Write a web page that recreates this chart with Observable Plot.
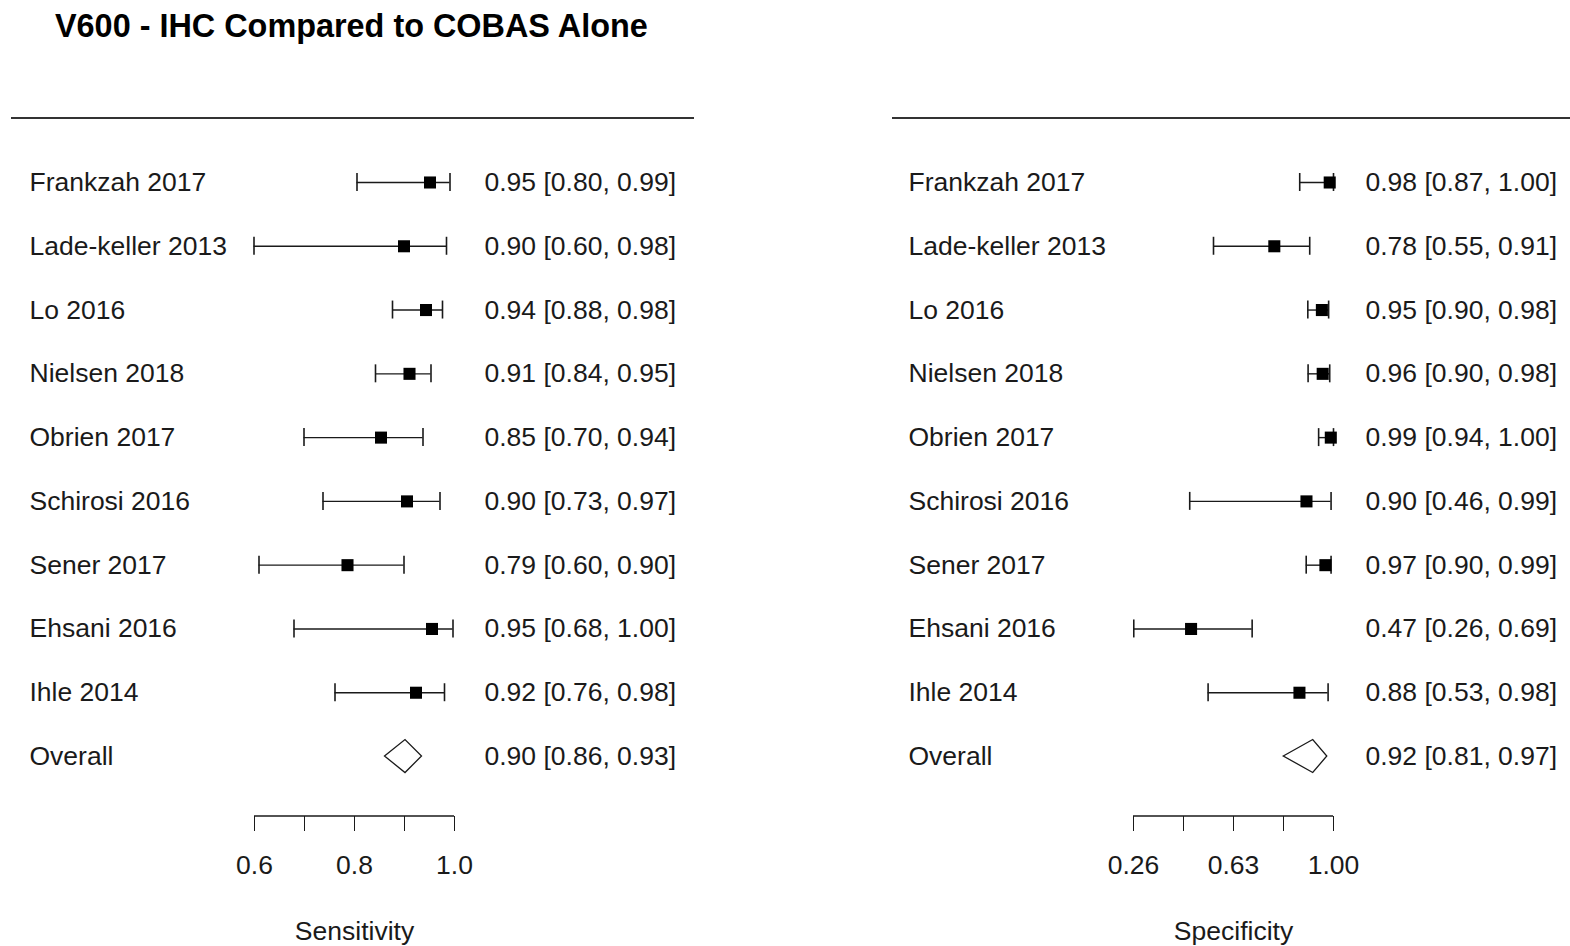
<!DOCTYPE html>
<html>
<head>
<meta charset="utf-8">
<script src="https://cdn.jsdelivr.net/npm/d3@7"></script>
<script src="https://cdn.jsdelivr.net/npm/@observablehq/plot@0.6"></script>
<style>
  html, body { margin: 0; padding: 0; background: #fff; }
  #wrap { position: relative; width: 1570px; height: 946px; overflow: hidden; font-family: "Liberation Sans", Arial, sans-serif; }
  #title { position: absolute; left: 55px; top: 10px; font-size: 32.4px; line-height: 32px; font-weight: bold; color: #000; white-space: nowrap; }
  .hr { position: absolute; top: 117px; height: 2px; background: #333; }
  .panel { position: absolute; top: 60px; }
</style>
</head>
<body>
<div id="wrap">
  <div id="title">V600 - IHC Compared to COBAS Alone</div>
  <div class="hr" style="left:11px;width:683px"></div>
  <div class="hr" style="left:892px;width:678px"></div>
  <div class="panel" id="left" style="left:0px"></div>
  <div class="panel" id="right" style="left:785px"></div>
</div>
<script>
// ---------- data ----------
const studies = ["Frankzah 2017", "Lade-keller 2013", "Lo 2016", "Nielsen 2018", "Obrien 2017",
                 "Schirosi 2016", "Sener 2017", "Ehsani 2016", "Ihle 2014"];
const overallLabel = "Overall";

const sensEst = [0.951, 0.899, 0.943, 0.910, 0.853, 0.905, 0.786, 0.955, 0.923];
const sensLo  = [0.805, 0.599, 0.876, 0.842, 0.699, 0.737, 0.609, 0.679, 0.761];
const sensHi  = [0.991, 0.984, 0.976, 0.953, 0.937, 0.971, 0.899, 0.997, 0.980];
const sensText = ["0.95 [0.80, 0.99]", "0.90 [0.60, 0.98]", "0.94 [0.88, 0.98]", "0.91 [0.84, 0.95]",
                  "0.85 [0.70, 0.94]", "0.90 [0.73, 0.97]", "0.79 [0.60, 0.90]", "0.95 [0.68, 1.00]",
                  "0.92 [0.76, 0.98]"];
const sensOverall = [0.861, 0.902, 0.935]; // lo, est, hi
const sensOverallText = "0.90 [0.86, 0.93]";
const sensTicks = [0.6, 0.7, 0.8, 0.9, 1.0];
const sensTickLabels = ["0.6", "", "0.8", "", "1.0"];

const specEst = [0.986, 0.781, 0.957, 0.960, 0.990, 0.900, 0.970, 0.473, 0.874];
const specLo  = [0.875, 0.556, 0.905, 0.906, 0.945, 0.468, 0.899, 0.261, 0.536];
const specHi  = [1.000, 0.912, 0.982, 0.986, 1.000, 0.991, 0.991, 0.699, 0.980];
const specText = ["0.98 [0.87, 1.00]", "0.78 [0.55, 0.91]", "0.95 [0.90, 0.98]", "0.96 [0.90, 0.98]",
                  "0.99 [0.94, 1.00]", "0.90 [0.46, 0.99]", "0.97 [0.90, 0.99]", "0.47 [0.26, 0.69]",
                  "0.88 [0.53, 0.98]"];
const specOverall = [0.816, 0.925, 0.977];
const specOverallText = "0.92 [0.81, 0.97]";
const specTicks = [0.26, 0.445, 0.63, 0.815, 1.00];
const specTickLabels = ["0.26", "", "0.63", "", "1.00"];

// ---------- drawing ----------
const rows = [...studies, overallLabel];
const INK = "#1a1a1a";

function panel({est, lo, hi, text, overall, overallText, ticks, tickLabels, title, marginLeft, marginRight, textDx}) {
  const studyData = studies.map((name, i) => ({name, est: est[i], lo: lo[i], hi: hi[i]}));
  const textData = rows.map((name, i) => ({name, text: i < studies.length ? text[i] : overallText}));
  const W = 785, H = 886;

  const overlay = (index, scales, values, dims) => {
    const {x, y} = scales;
    const ns = "http://www.w3.org/2000/svg";
    const g = document.createElementNS(ns, "g");
    // axis line spanning tick range
    const base = dims.height - dims.marginBottom;
    const line = document.createElementNS(ns, "line");
    line.setAttribute("x1", x(ticks[0]));
    line.setAttribute("x2", x(ticks[ticks.length - 1]));
    line.setAttribute("y1", base);
    line.setAttribute("y2", base);
    line.setAttribute("stroke", INK);
    line.setAttribute("stroke-width", 1.4);
    g.appendChild(line);
    // summary diamond
    const bw = y.bandwidth ? y.bandwidth() : 0;
    const cy = y(overallLabel) + bw / 2;
    const h = 16.5;
    const pts = [[x(overall[0]), cy], [x(overall[1]), cy - h], [x(overall[2]), cy], [x(overall[1]), cy + h]];
    const poly = document.createElementNS(ns, "polygon");
    poly.setAttribute("points", pts.map(p => p.join(",")).join(" "));
    poly.setAttribute("fill", "none");
    poly.setAttribute("stroke", INK);
    poly.setAttribute("stroke-width", 1.3);
    g.appendChild(poly);
    return g;
  };

  return Plot.plot({
    width: W,
    height: H,
    marginLeft,
    marginRight,
    marginTop: 90,
    marginBottom: 130,
    style: {fontFamily: '"Liberation Sans", Arial, sans-serif', fontSize: "26.5px", color: INK, background: "transparent", overflow: "visible"},
    x: {
      domain: [ticks[0], ticks[ticks.length - 1]],
      ticks,
      tickFormat: (d) => tickLabels[ticks.indexOf(d)] ?? "",
      tickSize: 15,
      tickPadding: 24,
      label: null
    },
    y: {type: "band", domain: rows, range: [90.1, 727.9], padding: 0, round: false, axis: null},
    marks: [
      Plot.ruleY(studyData, {y: "name", x1: "lo", x2: "hi", stroke: INK, strokeWidth: 1.4}),
      Plot.tickX(studyData, {x: "lo", y: "name", insetTop: 22.9, insetBottom: 22.9, stroke: INK, strokeWidth: 1.6}),
      Plot.tickX(studyData, {x: "hi", y: "name", insetTop: 22.9, insetBottom: 22.9, stroke: INK, strokeWidth: 1.6}),
      Plot.dot(studyData, {x: "est", y: "name", symbol: "square", r: 6.8, fill: "#000", stroke: null}),
      Plot.text(textData, {y: "name", text: "name", frameAnchor: "left", textAnchor: "start", dx: -225, fill: INK}),
      Plot.text(textData, {y: "name", text: "text", frameAnchor: "right", textAnchor: "start", dx: textDx, fill: INK}),
      Plot.text([title], {text: (d) => d, frameAnchor: "bottom", dy: 123, fill: INK}),
      overlay
    ]
  });
}

document.getElementById("left").appendChild(panel({
  est: sensEst, lo: sensLo, hi: sensHi, text: sensText,
  overall: sensOverall, overallText: sensOverallText,
  ticks: sensTicks, tickLabels: sensTickLabels, title: "Sensitivity",
  marginLeft: 254, marginRight: 331, textDx: 30
}));

document.getElementById("right").appendChild(panel({
  est: specEst, lo: specLo, hi: specHi, text: specText,
  overall: specOverall, overallText: specOverallText,
  ticks: specTicks, tickLabels: specTickLabels, title: "Specificity",
  marginLeft: 348, marginRight: 237, textDx: 32
}));
</script>
</body>
</html>
